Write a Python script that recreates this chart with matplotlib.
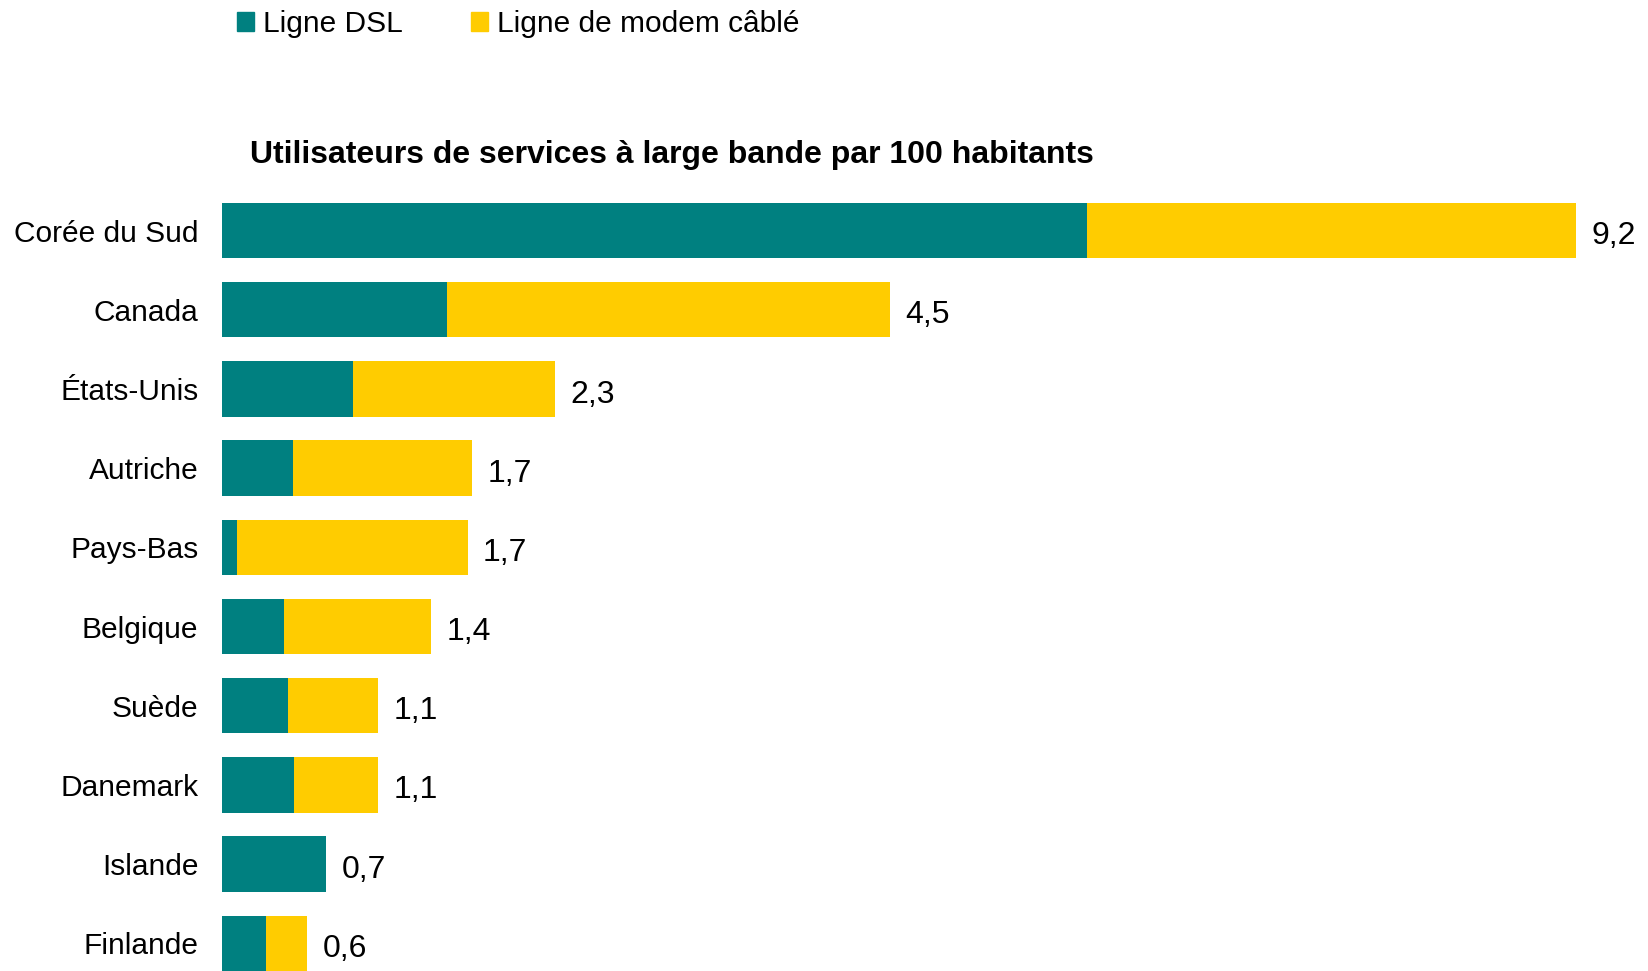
import matplotlib
matplotlib.use("Agg")
import matplotlib.pyplot as plt
from matplotlib.patches import Patch

plt.rcParams["font.family"] = ["Liberation Sans", "DejaVu Sans"]

# données
pays = ["Corée du Sud", "Canada", "États-Unis", "Autriche", "Pays-Bas",
        "Belgique", "Suède", "Danemark", "Islande", "Finlande"]
dsl = [5.88, 1.53, 0.89, 0.48, 0.10, 0.42, 0.45, 0.49, 0.71, 0.30]
cable = [3.32, 3.01, 1.37, 1.22, 1.57, 1.00, 0.61, 0.57, 0.00, 0.28]

TEAL = "#008080"
JAUNE = "#FFCC00"

W, H = 1648, 971
fig = plt.figure(figsize=(W / 100, H / 100), dpi=100)
ax = fig.add_axes([222 / W, 0, (1576 - 222) / W, (971 - 191) / H])

y = list(range(len(pays)))
ax.barh(y, dsl, height=0.70, color=TEAL)
ax.barh(y, cable, left=dsl, height=0.70, color=JAUNE)

for yi, d, c in zip(y, dsl, cable):
    tot = d + c
    ax.annotate(f"{tot:.1f}".replace(".", ","), (tot, yi), xytext=(11, -4),
                textcoords="offset points", ha="left", va="center",
                fontsize=23, annotation_clip=False)

ax.set_xlim(0, 9.2)
ax.set_ylim(9.35, -0.5)
ax.set_yticks(y)
ax.set_yticklabels(pays, fontsize=21.5)
ax.tick_params(axis="y", length=0, pad=17)
ax.set_xticks([])
for s in ax.spines.values():
    s.set_visible(False)

fig.text(250 / W, 1 - 155 / H, "Utilisateurs de services à large bande par 100 habitants",
         fontsize=23, fontweight="bold", ha="left", va="center")

fig.legend(handles=[Patch(color=TEAL, label="Ligne DSL"),
                    Patch(color=JAUNE, label="Ligne de modem câblé")],
           loc="center left", bbox_to_anchor=(237 / W, 1 - 24 / H), ncol=2,
           frameon=False, fontsize=21.5, handlelength=0.57, handleheight=0.57,
           handletextpad=0.3, columnspacing=2.3, borderpad=0, borderaxespad=0)

fig.savefig("out.png", dpi=100)
